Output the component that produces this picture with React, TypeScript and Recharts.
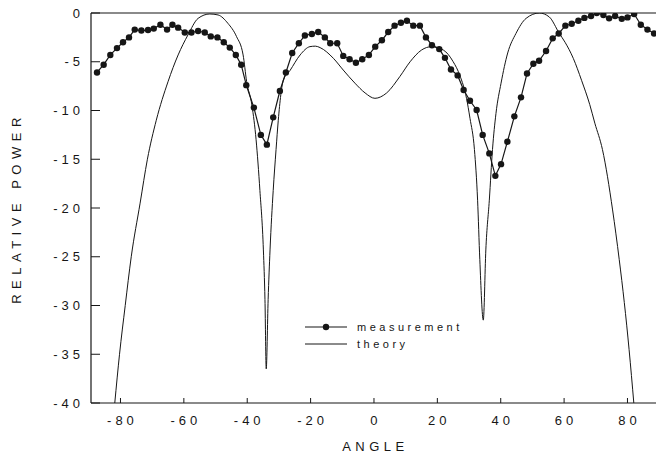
import { LineChart, Line, XAxis, YAxis, ReferenceLine } from 'recharts'

const measAngle = [
  -87.4, -85.3, -83.2, -81.1, -79.2, -77.3, -75.5, -73.4, -71.3, -69.5, -67.4, -65.3, -63.6, -61.8, -59.7,
  -57.6, -55.5, -53.4, -51.5, -49.4, -47.4, -45.5, -43.6, -41.9, -40.3, -37.9, -35.7, -33.8, -31.8, -29.7,
  -27.8, -25.8, -23.7, -21.8, -19.6, -17.6, -15.5, -13.8, -11.6, -9.7, -7.7, -5.7, -3.7, -1.6, 0.4,
  2.5, 4.5, 6.5, 8.5, 10.4, 12.4, 14.5, 16.4, 18.3, 20.6, 22.4, 24.3, 26.4, 28.3, 30.3,
  32.4, 34.3, 36.4, 38.3, 40.1, 42.1, 44.3, 46.4, 48.3, 50.3, 52.1, 54.3, 56.4, 58.3, 60.4,
  62.4, 64.5, 66.4, 68.5, 70.3, 72.4, 74.2, 76.1, 78.2, 80.0, 82.1, 84.2, 86.3, 88.4,
]
const measPower = [
  -6.1, -5.3, -4.3, -3.6, -3.0, -2.5, -1.7, -1.8, -1.75, -1.6, -1.2, -1.7, -1.2, -1.5, -2.0,
  -2.0, -1.85, -2.0, -2.4, -2.5, -3.0, -3.55, -4.3, -5.3, -7.4, -9.7, -12.5, -13.5, -10.7, -8.0,
  -6.1, -4.1, -3.1, -2.3, -2.15, -1.95, -2.5, -3.1, -3.1, -4.4, -4.75, -5.1, -4.75, -4.3, -3.45,
  -2.8, -1.95, -1.3, -1.0, -0.8, -1.3, -1.3, -2.5, -3.3, -3.7, -4.6, -5.8, -6.4, -7.9, -9.0,
  -9.95, -12.5, -14.4, -16.7, -15.5, -13.2, -10.6, -8.65, -6.2, -5.2, -4.9, -3.9, -2.6, -2.1, -1.3,
  -1.1, -0.8, -0.5, -0.3, 0, -0.2, -0.55, -0.3, -0.6, -0.45, -0.1, -1.2, -1.7, -2.1,
]

const theoryAngle = [
  -81.8, -80.3, -78.5, -76.6, -73.8, -71.5, -68.7, -65, -61.8, -58.7, -55.5, -51.8, -49.2, -46.1, -43.4,
  -41.3, -40.2, -38.5, -37.2, -36, -34.9, -34.4, -34.0, -33.4, -32.8, -31.8, -30.9, -30.2, -28.6, -26.5,
  -23.3, -20.2, -18.5, -17, -12.8, -9.7, -6, -2.8, 0.3, 4.0, 8.2, 11.4, 15, 18.2, 21.9,
  25, 27.1, 29.2, 30.3, 31.7, 32.7, 33.4, 34.5, 35.3, 36.4, 37.4, 38.5, 40.1, 42.2, 44.8,
  48, 52.2, 55.3, 58.5, 60.3, 62.9, 65.5, 68.1, 69.7, 72.1, 75.3, 77.4, 79, 80.5, 82,
]
const theoryPower = [
  -40, -35, -30, -25, -19.5, -15, -11.0, -7.05, -4.3, -2.25, -0.55, -0.1, -0.2, -1.06, -2.4,
  -4.3, -7.0, -9.5, -13, -18.2, -24.3, -29.4, -36.5, -29.4, -24.3, -18.2, -14, -11, -6.9, -5.9,
  -4.3, -3.45, -3.4, -3.55, -4.65, -5.85, -7.2, -8.2, -8.75, -8.2, -6.5, -5.0, -3.8, -3.45, -3.8,
  -5.0, -6.4, -8.75, -10.8, -14, -19.2, -25.3, -31.5, -24.3, -19.2, -14, -10.3, -7.2, -4.1, -2.1,
  -0.55, 0, -0.4, -2.1, -3.0, -4.65, -6.9, -9.4, -11.3, -14, -20.2, -25.3, -29.7, -34.5, -40,
]

const xTicks = [-80, -60, -40, -20, 0, 20, 40, 60, 80]
const yTicks = [0, -5, -10, -15, -20, -25, -30, -35, -40]

const measurement = measAngle.map((a, i) => ({ angle: a, power: measPower[i] }))
const theory = theoryAngle.map((a, i) => ({ angle: a, power: theoryPower[i] }))

const FONT = '"Liberation Sans", Arial, sans-serif'
const INK = '#161616'
const Y_MARGIN = 11

function YTick({ x, y, payload }: any) {
  return (
    <g>
      <line x1={x + Y_MARGIN} x2={x + Y_MARGIN + 9} y1={y} y2={y} stroke={INK} strokeWidth={1} />
      <text x={x + 4} y={y} dy="0.36em" textAnchor="end" fontFamily={FONT} fontSize={13} letterSpacing={4} fill={INK}>
        {payload.value}
      </text>
    </g>
  )
}

function XTick({ x, y, payload }: any) {
  return (
    <g>
      <line x1={x} x2={x} y1={y} y2={y - 5} stroke={INK} strokeWidth={1} />
      <text x={x + 2} y={y + 22} textAnchor="middle" fontFamily={FONT} fontSize={13} letterSpacing={4} fill={INK}>
        {payload.value}
      </text>
    </g>
  )
}

function LegendBox() {
  return (
    <svg width={200} height={40} style={{ display: 'block' }}>
      <line x1={5} x2={47} y1={9} y2={9} stroke={INK} strokeWidth={1.2} />
      <circle cx={26} cy={9} r={3.2} fill={INK} />
      <text x={57} y={13} fontFamily={FONT} fontSize={11} letterSpacing={3.5} fill={INK}>measurement</text>
      <line x1={5} x2={47} y1={26} y2={26} stroke={INK} strokeWidth={1} />
      <text x={57} y={30} fontFamily={FONT} fontSize={11} letterSpacing={3.5} fill={INK}>theory</text>
    </svg>
  )
}

export default function App() {
  return (
    <div style={{ position: 'absolute', left: 0, top: 0, width: 656, height: 459, background: '#fff' }}>
      <LineChart width={656} height={459} margin={{ top: 13, right: 0, bottom: 0, left: 0 }}>
        <XAxis
          dataKey="angle"
          type="number"
          domain={[-89.3, 89]}
          ticks={xTicks}
          allowDataOverflow
          height={56}
          tickSize={0}
          tickMargin={0}
          tickLine={false}
          axisLine={{ stroke: INK, strokeWidth: 1.2 }}
          tick={<XTick />}
          label={{
            content: ({ viewBox }: any) => (
              <text
                x={viewBox.x + viewBox.width / 2 + 2}
                y={viewBox.y + 48}
                textAnchor="middle"
                fontFamily={FONT}
                fontSize={13}
                letterSpacing={4.5}
                fill={INK}
              >
                ANGLE
              </text>
            ),
          }}
        />
        <YAxis
          dataKey="power"
          type="number"
          domain={[-40, 0]}
          ticks={yTicks}
          allowDataOverflow
          width={91}
          tickSize={0}
          tickMargin={Y_MARGIN}
          tickLine={false}
          axisLine={{ stroke: INK, strokeWidth: 1.2 }}
          tick={<YTick />}
          label={{
            content: ({ viewBox }: any) => {
              const cx = viewBox.x + 16
              const cy = viewBox.y + viewBox.height / 2
              return (
                <text
                  x={cx}
                  y={cy}
                  dy="0.36em"
                  transform={`rotate(-90 ${cx} ${cy})`}
                  textAnchor="middle"
                  fontFamily={FONT}
                  fontSize={13}
                  letterSpacing={5.5}
                  fill={INK}
                >
                  RELATIVE POWER
                </text>
              )
            },
          }}
        />
        <ReferenceLine y={0} stroke={INK} strokeWidth={1.2} />
        <Line
          data={theory}
          dataKey="power"
          name="theory"
          type="monotone"
          stroke={INK}
          strokeWidth={1}
          dot={false}
          isAnimationActive={false}
        />
        <Line
          data={measurement}
          dataKey="power"
          name="measurement"
          type="linear"
          stroke={INK}
          strokeWidth={1.2}
          dot={{ r: 3.2, fill: INK, stroke: 'none' }}
          isAnimationActive={false}
        />
      </LineChart>
      <div style={{ position: 'absolute', left: 300, top: 318 }}>
        <LegendBox />
      </div>
    </div>
  )
}
